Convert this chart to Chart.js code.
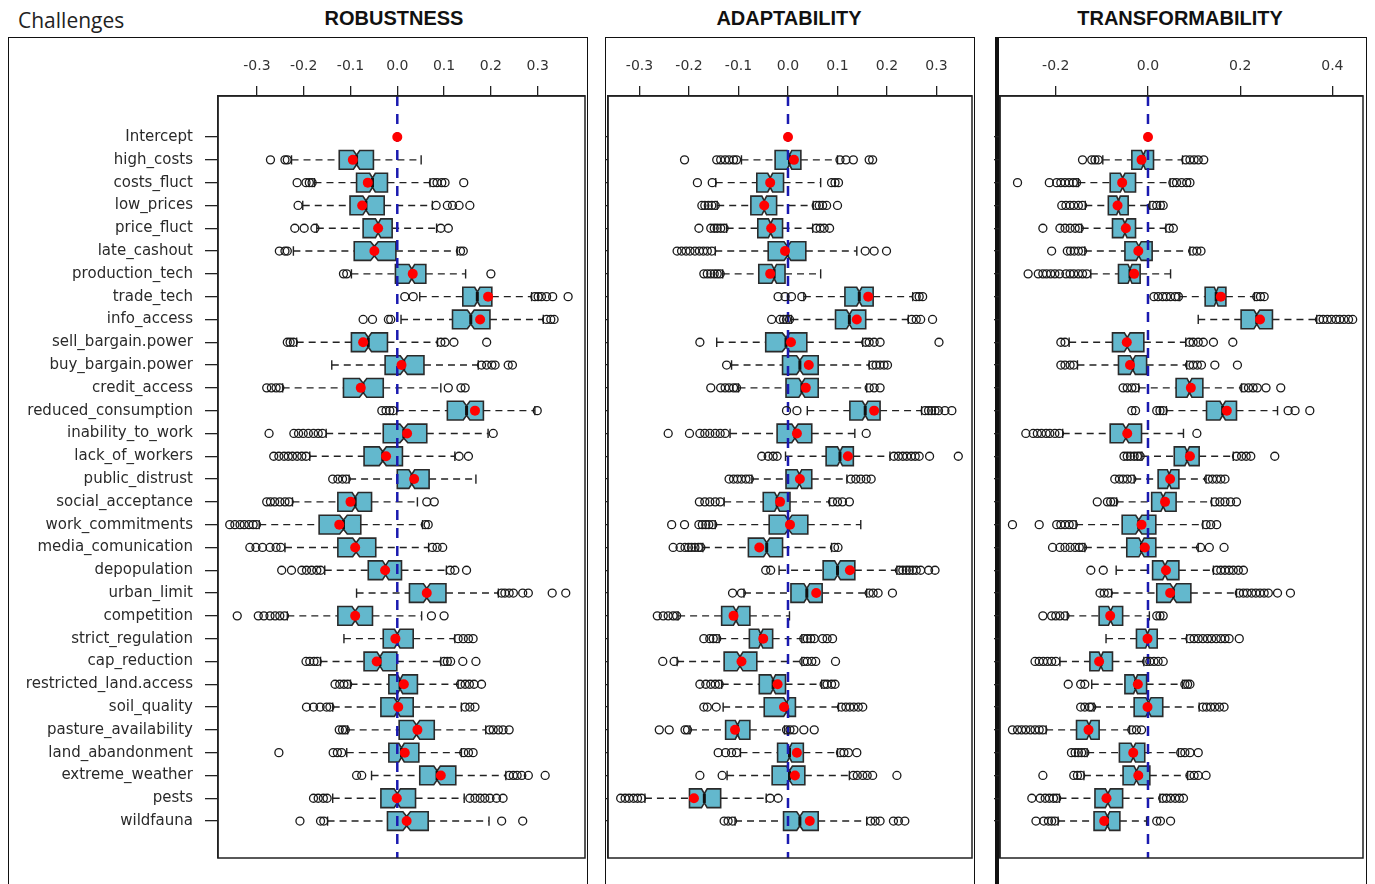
<!DOCTYPE html>
<html>
<head>
<meta charset="utf-8">
<script src="https://cdn.jsdelivr.net/npm/chart.js@4.4.1/dist/chart.umd.min.js"></script>
<style>
    body { margin: 0; background: #fff; width: 1375px; height: 884px; overflow: hidden; position: relative; }
    .frame { position: absolute; top: 37px; height: 900px; border: 1.5px solid #111; border-bottom: none; box-sizing: border-box; }
    .title { position: absolute; top: 7px; font: bold 20px 'Liberation Sans', Arial, sans-serif; color: #111; transform: translateX(-50%); white-space: nowrap; }
    canvas { position: absolute; }
</style>
</head>
<body>
<div style="position:absolute; left:18px; top:6px; font: 21px 'Open Sans', sans-serif; color:#222;">Challenges</div>
<div class="title" style="left:394px;">ROBUSTNESS</div>
<div class="title" style="left:789px;">ADAPTABILITY</div>
<div class="title" style="left:1180px;">TRANSFORMABILITY</div>

<div class="frame" style="left:8px; width:580px;"></div>
<div class="frame" style="left:605px; width:370px;"></div>
<div class="frame" style="left:995px; width:372px; border-left-width:4px;"></div>

<canvas id="robChart" width="576" height="822" style="left:10px; top:40px;"></canvas>
<canvas id="adaChart" width="373" height="822" style="left:603px; top:40px;"></canvas>
<canvas id="trfChart" width="375" height="822" style="left:992px; top:40px;"></canvas>

<script>
// Predictors, top to bottom
const challenges = ['Intercept', 'high_costs', 'costs_fluct', 'low_prices', 'price_fluct', 'late_cashout',
    'production_tech', 'trade_tech', 'info_access', 'sell_bargain.power', 'buy_bargain.power', 'credit_access',
    'reduced_consumption', 'inability_to_work', 'lack_of_workers', 'public_distrust', 'social_acceptance',
    'work_commitments', 'media_comunication', 'depopulation', 'urban_limit', 'competition', 'strict_regulation',
    'cap_reduction', 'restricted_land.access', 'soil_quality', 'pasture_availability', 'land_abandonment',
    'extreme_weather', 'pests', 'wildfauna'];

// bootstrap replicates per coefficient (used for the notch width)
const sampleSize = 300;

// ROBUSTNESS
const robTicks = [-0.3, -0.2, -0.1, 0.0, 0.1, 0.2, 0.3];
const robLo = [null, -0.226, -0.177, -0.202, -0.172, -0.222, -0.098, 0.048, 0.008, -0.215, -0.140, -0.245, -0.001, -0.152, -0.187, -0.103, -0.224, -0.295, -0.240, -0.155, -0.087, -0.235, -0.114, -0.164, -0.100, -0.138, -0.106, -0.108, -0.055, -0.138, -0.149];
const robQ1 = [null, -0.124, -0.087, -0.101, -0.073, -0.092, -0.004, 0.140, 0.118, -0.098, -0.026, -0.115, 0.107, -0.030, -0.071, 0.000, -0.127, -0.167, -0.127, -0.062, 0.026, -0.127, -0.030, -0.071, -0.018, -0.035, 0.004, -0.018, 0.048, -0.035, -0.021];
const robMed = [null, -0.087, -0.053, -0.067, -0.041, -0.049, 0.031, 0.171, 0.157, -0.062, 0.014, -0.073, 0.148, 0.014, -0.031, 0.031, -0.090, -0.115, -0.088, -0.025, 0.063, -0.090, 0.000, -0.037, 0.006, 0.000, 0.041, 0.009, 0.085, 0.000, 0.020];
const robQ3 = [null, -0.051, -0.021, -0.028, -0.011, -0.003, 0.061, 0.202, 0.198, -0.021, 0.057, -0.030, 0.184, 0.063, 0.011, 0.068, -0.055, -0.078, -0.046, 0.009, 0.104, -0.053, 0.034, -0.001, 0.043, 0.034, 0.079, 0.046, 0.125, 0.039, 0.066];
const robHi = [null, 0.051, 0.070, 0.075, 0.084, 0.128, 0.146, 0.287, 0.312, 0.086, 0.173, 0.093, 0.294, 0.194, 0.123, 0.168, 0.043, 0.054, 0.067, 0.105, 0.216, 0.052, 0.123, 0.093, 0.130, 0.137, 0.189, 0.137, 0.232, 0.143, 0.196];
const robMean = [0, -0.095, -0.063, -0.075, -0.041, -0.049, 0.033, 0.194, 0.177, -0.073, 0.009, -0.078, 0.166, 0.021, -0.024, 0.036, -0.100, -0.124, -0.090, -0.026, 0.063, -0.090, -0.004, -0.044, 0.014, 0.002, 0.043, 0.016, 0.093, -0.001, 0.020];
const robOut = [
    [],
    [-0.271, -0.240, -0.235],
    [-0.214, -0.195, -0.188, -0.182, 0.077, 0.085, 0.095, 0.102, 0.142],
    [-0.212, 0.083, 0.107, 0.118, 0.132, 0.155],
    [-0.219, -0.199, -0.176, 0.093, 0.109],
    [-0.252, -0.240, -0.235, 0.135, 0.141],
    [-0.115, -0.108, 0.200],
    [0.016, 0.034, 0.294, 0.301, 0.308, 0.319, 0.332, 0.365],
    [-0.073, -0.053, -0.019, -0.014, 0.319, 0.328, 0.335],
    [-0.235, -0.229, -0.222, 0.093, 0.102, 0.121, 0.191],
    [0.180, 0.191, 0.202, 0.209, 0.237, 0.246],
    [-0.279, -0.269, -0.259, -0.251, 0.109, 0.136, 0.145],
    [-0.033, -0.024, -0.016, -0.009, 0.299],
    [-0.274, -0.221, -0.211, -0.201, -0.190, -0.179, -0.169, -0.160, 0.205],
    [-0.264, -0.253, -0.242, -0.233, -0.224, -0.214, -0.204, -0.195, 0.132, 0.152],
    [-0.138, -0.127, -0.117, -0.109],
    [-0.279, -0.271, -0.262, -0.251, -0.240, -0.231, 0.063, 0.079],
    [-0.358, -0.347, -0.336, -0.327, -0.317, -0.308, -0.301, 0.060, 0.066],
    [-0.315, -0.302, -0.288, -0.272, -0.259, -0.249, 0.075, 0.085, 0.097],
    [-0.247, -0.226, -0.204, -0.194, -0.183, -0.172, -0.164, 0.113, 0.123, 0.148],
    [0.223, 0.230, 0.239, 0.248, 0.268, 0.280, 0.331, 0.360],
    [-0.342, -0.297, -0.285, -0.272, -0.261, -0.251, -0.241, 0.073, 0.100],
    [0.130, 0.141, 0.152, 0.162],
    [-0.195, -0.187, -0.178, -0.171, 0.100, 0.107, 0.114, 0.140, 0.168],
    [-0.133, -0.123, -0.114, -0.106, 0.135, 0.145, 0.154, 0.164, 0.180],
    [-0.194, -0.179, -0.165, -0.151, -0.144, 0.145, 0.155, 0.166],
    [-0.124, -0.117, -0.111, 0.197, 0.205, 0.216, 0.226, 0.239],
    [-0.253, -0.137, -0.128, -0.119, 0.142, 0.152, 0.162],
    [-0.087, -0.076, 0.239, 0.248, 0.256, 0.266, 0.280, 0.316],
    [-0.179, -0.169, -0.158, -0.150, 0.155, 0.166, 0.177, 0.187, 0.198, 0.212, 0.226],
    [-0.208, -0.164, -0.157, 0.223, 0.268]
];

// ADAPTABILITY
const adaTicks = [-0.3, -0.2, -0.1, 0.0, 0.1, 0.2, 0.3];
const adaLo = [null, -0.094, -0.146, -0.143, -0.124, -0.147, -0.132, 0.032, 0.007, -0.144, -0.114, -0.100, 0.039, -0.117, -0.005, -0.073, -0.129, -0.147, -0.172, -0.018, -0.089, -0.222, -0.139, -0.224, -0.134, -0.131, -0.198, -0.096, -0.123, -0.289, -0.107];
const adaQ1 = [null, -0.026, -0.063, -0.075, -0.061, -0.040, -0.059, 0.115, 0.096, -0.045, -0.011, -0.004, 0.125, -0.022, 0.077, -0.004, -0.050, -0.038, -0.080, 0.071, 0.006, -0.134, -0.078, -0.129, -0.058, -0.048, -0.126, -0.021, -0.032, -0.199, -0.009];
const adaMed = [null, 0.003, -0.036, -0.048, -0.035, -0.001, -0.028, 0.144, 0.124, -0.004, 0.024, 0.028, 0.156, 0.014, 0.105, 0.023, -0.022, 0.001, -0.043, 0.100, 0.038, -0.105, -0.055, -0.097, -0.030, -0.003, -0.102, 0.003, 0.003, -0.169, 0.024];
const adaQ3 = [null, 0.026, -0.009, -0.023, -0.011, 0.036, -0.006, 0.172, 0.157, 0.038, 0.061, 0.061, 0.186, 0.048, 0.132, 0.048, 0.004, 0.040, -0.011, 0.135, 0.069, -0.077, -0.031, -0.063, -0.005, 0.015, -0.077, 0.031, 0.034, -0.136, 0.061];
const adaHi = [null, 0.100, 0.066, 0.051, 0.050, 0.139, 0.066, 0.252, 0.243, 0.151, 0.164, 0.159, 0.270, 0.135, 0.206, 0.119, 0.084, 0.147, 0.088, 0.220, 0.159, 0.003, 0.028, 0.028, 0.068, 0.102, -0.007, 0.100, 0.124, -0.044, 0.159];
const adaMean = [0, 0.012, -0.036, -0.048, -0.034, -0.006, -0.036, 0.162, 0.139, 0.006, 0.042, 0.036, 0.174, 0.018, 0.121, 0.024, -0.016, 0.004, -0.058, 0.125, 0.057, -0.110, -0.050, -0.094, -0.021, -0.008, -0.107, 0.018, 0.014, -0.190, 0.044];
const adaOut = [
    [],
    [-0.209, -0.144, -0.136, -0.127, -0.119, -0.110, -0.104, 0.105, 0.117, 0.132, 0.164, 0.171],
    [-0.183, -0.153, 0.088, 0.095, 0.102],
    [-0.174, -0.168, -0.161, -0.154, -0.147, 0.057, 0.063, 0.070, 0.078, 0.100],
    [-0.180, -0.156, -0.149, -0.143, -0.136, -0.129, 0.057, 0.065, 0.073, 0.084],
    [-0.224, -0.215, -0.206, -0.198, -0.188, -0.179, -0.171, -0.163, -0.154, 0.156, 0.174, 0.199],
    [-0.170, -0.163, -0.156, -0.149, -0.143, -0.137],
    [-0.020, -0.006, 0.007, 0.028, 0.259, 0.265, 0.272],
    [-0.033, -0.016, -0.009, -0.003, 0.003, 0.250, 0.259, 0.268, 0.292],
    [-0.178, 0.157, 0.164, 0.174, 0.186, 0.305],
    [-0.124, 0.171, 0.178, 0.186, 0.194, 0.201],
    [-0.156, -0.136, -0.127, -0.119, -0.110, -0.104, 0.164, 0.174, 0.186],
    [-0.003, 0.018, 0.277, 0.284, 0.290, 0.297, 0.304, 0.317, 0.331],
    [-0.242, -0.199, -0.178, -0.168, -0.158, -0.147, -0.137, -0.127, 0.158],
    [-0.053, -0.040, -0.030, -0.022, 0.214, 0.223, 0.232, 0.240, 0.249, 0.257, 0.265, 0.286, 0.344],
    [-0.119, -0.110, -0.102, -0.094, -0.085, -0.078, 0.127, 0.137, 0.147, 0.158, 0.168],
    [-0.179, -0.168, -0.158, -0.147, -0.137, 0.090, 0.100, 0.110, 0.124],
    [-0.235, -0.209, -0.180, -0.173, -0.166, -0.160, -0.152],
    [-0.232, -0.218, -0.208, -0.201, -0.195, -0.188, -0.181, -0.176, 0.094, 0.101],
    [-0.045, -0.035, 0.225, 0.232, 0.239, 0.245, 0.252, 0.259, 0.268, 0.284, 0.297],
    [-0.112, -0.094, 0.164, 0.172, 0.182, 0.211],
    [-0.264, -0.252, -0.242, -0.232, -0.225],
    [-0.170, -0.158, -0.151, -0.144, 0.032, 0.039, 0.046, 0.053, 0.070, 0.079, 0.090],
    [-0.253, -0.230, 0.032, 0.039, 0.048, 0.056, 0.096],
    [-0.178, -0.166, -0.156, -0.147, -0.139, 0.073, 0.079, 0.088, 0.095],
    [-0.170, -0.163, -0.145, 0.108, 0.117, 0.125, 0.133, 0.142, 0.151],
    [-0.260, -0.240, -0.208, -0.203, -0.003, 0.004, 0.012, 0.032, 0.053],
    [-0.141, -0.126, -0.114, -0.104, 0.106, 0.113, 0.122, 0.139],
    [-0.178, -0.133, 0.132, 0.140, 0.151, 0.160, 0.171, 0.220],
    [-0.338, -0.329, -0.321, -0.312, -0.304, -0.296, -0.036, -0.020],
    [-0.129, -0.121, -0.112, 0.167, 0.176, 0.186, 0.213, 0.223, 0.236]
];

// TRANSFORMABILITY
const trfTicks = [-0.2, 0.0, 0.2, 0.4];
const trfLo = [null, -0.098, -0.151, -0.136, -0.144, -0.137, -0.124, 0.069, 0.109, -0.171, -0.153, -0.020, 0.040, -0.185, -0.013, -0.030, -0.068, -0.156, -0.137, -0.069, -0.079, -0.175, -0.091, -0.191, -0.122, -0.117, -0.221, -0.132, -0.139, -0.192, -0.195];
const trfQ1 = [null, -0.035, -0.082, -0.086, -0.077, -0.050, -0.064, 0.124, 0.202, -0.077, -0.064, 0.061, 0.127, -0.082, 0.057, 0.022, 0.008, -0.056, -0.046, 0.010, 0.019, -0.106, -0.025, -0.126, -0.050, -0.030, -0.155, -0.062, -0.054, -0.115, -0.117];
const trfMed = [null, -0.010, -0.055, -0.064, -0.050, -0.020, -0.039, 0.148, 0.236, -0.045, -0.033, 0.090, 0.162, -0.048, 0.085, 0.046, 0.033, -0.020, -0.014, 0.037, 0.055, -0.081, -0.001, -0.102, -0.027, 0.001, -0.128, -0.032, -0.025, -0.087, -0.088];
const trfQ3 = [null, 0.012, -0.027, -0.043, -0.027, 0.009, -0.017, 0.169, 0.270, -0.009, -0.003, 0.119, 0.192, -0.014, 0.111, 0.067, 0.061, 0.017, 0.017, 0.067, 0.093, -0.055, 0.020, -0.077, -0.003, 0.032, -0.106, -0.007, 0.004, -0.055, -0.061];
const trfHi = [null, 0.075, 0.048, 0.004, 0.039, 0.091, 0.049, 0.231, 0.366, 0.082, 0.084, 0.203, 0.281, 0.077, 0.185, 0.126, 0.138, 0.119, 0.109, 0.142, 0.192, 0.003, 0.084, -0.009, 0.075, 0.111, -0.040, 0.066, 0.086, 0.026, -0.003];
const trfMean = [0, -0.014, -0.056, -0.066, -0.048, -0.021, -0.030, 0.158, 0.243, -0.046, -0.039, 0.093, 0.171, -0.045, 0.091, 0.048, 0.037, -0.014, -0.007, 0.039, 0.048, -0.082, -0.001, -0.106, -0.022, -0.001, -0.129, -0.032, -0.021, -0.090, -0.095];
const trfOut = [
    [],
    [-0.142, -0.122, -0.115, -0.108, 0.082, 0.091, 0.100, 0.109, 0.121],
    [-0.283, -0.214, -0.198, -0.189, -0.180, -0.171, -0.162, -0.155, 0.054, 0.062, 0.073, 0.084, 0.091],
    [-0.187, -0.178, -0.169, -0.161, -0.151, -0.142, 0.010, 0.019, 0.027, 0.033],
    [-0.228, -0.191, -0.180, -0.169, -0.158, -0.149, 0.046, 0.055],
    [-0.209, -0.175, -0.168, -0.160, -0.151, -0.142, 0.097, 0.106, 0.115],
    [-0.260, -0.238, -0.228, -0.220, -0.211, -0.202, -0.192, -0.178, -0.169, -0.161, -0.151, -0.142, -0.133],
    [0.013, 0.022, 0.032, 0.040, 0.049, 0.059, 0.066, 0.236, 0.244, 0.252],
    [0.372, 0.380, 0.389, 0.398, 0.408, 0.416, 0.425, 0.435, 0.444],
    [-0.189, -0.180, 0.090, 0.098, 0.109, 0.120, 0.142, 0.184],
    [-0.189, -0.180, -0.169, -0.161, 0.090, 0.098, 0.107, 0.116, 0.145, 0.194],
    [-0.054, -0.045, -0.035, -0.027, 0.208, 0.218, 0.228, 0.237, 0.256, 0.288],
    [-0.035, -0.027, 0.019, 0.026, 0.033, 0.304, 0.319, 0.351],
    [-0.265, -0.249, -0.240, -0.231, -0.221, -0.213, -0.202, -0.192, 0.106],
    [-0.052, -0.045, -0.038, -0.030, -0.023, -0.017, 0.192, 0.203, 0.213, 0.223, 0.275],
    [-0.072, -0.062, -0.054, -0.045, -0.035, 0.131, 0.140, 0.149, 0.158, 0.167],
    [-0.110, -0.088, -0.081, -0.074, 0.145, 0.156, 0.167, 0.179, 0.192],
    [-0.294, -0.236, -0.198, -0.189, -0.180, -0.171, -0.162, 0.126, 0.136, 0.149],
    [-0.207, -0.191, -0.180, -0.169, -0.158, -0.149, -0.142, 0.114, 0.133, 0.165],
    [-0.124, -0.097, 0.149, 0.158, 0.167, 0.176, 0.185, 0.196, 0.207],
    [-0.104, -0.095, -0.086, 0.198, 0.207, 0.215, 0.225, 0.234, 0.243, 0.252, 0.261, 0.281, 0.309],
    [-0.228, -0.209, -0.200, -0.191, -0.180, 0.019, 0.026, 0.033],
    [0.091, 0.100, 0.109, 0.119, 0.129, 0.138, 0.148, 0.158, 0.167, 0.176, 0.198],
    [-0.245, -0.236, -0.227, -0.218, -0.209, -0.200, -0.003, 0.004, 0.013, 0.022, 0.033],
    [-0.173, -0.146, -0.137, 0.080, 0.086, 0.091],
    [-0.146, -0.137, -0.127, -0.122, 0.119, 0.127, 0.136, 0.145, 0.155, 0.165],
    [-0.294, -0.283, -0.274, -0.265, -0.255, -0.245, -0.236, -0.228, -0.035, -0.025, -0.014],
    [-0.166, -0.158, -0.151, -0.144, -0.137, 0.071, 0.080, 0.091, 0.109],
    [-0.228, -0.161, -0.153, -0.146, 0.091, 0.100, 0.109, 0.126],
    [-0.252, -0.234, -0.223, -0.214, -0.205, -0.198, 0.032, 0.040, 0.049, 0.059, 0.068, 0.077],
    [-0.243, -0.226, -0.216, -0.209, -0.202, 0.019, 0.027, 0.049]
];

const boxFill = '#63b8cd';
const boxEdge = '#2a2a2a';
const zeroBlue = '#1a1ab0';

// Draws notched boxes, dashed whiskers and the zero reference line
function boxPlugin(lo, q1, med, q3, hi) {
    return {
        id: 'notchedBoxes',
        beforeDatasetsDraw(chart) {
            const { ctx, chartArea, scales: { x, y } } = chart;
            const unit = Math.abs(y.getPixelForValue(1) - y.getPixelForValue(0));
            const half = unit * 0.41;
            ctx.save();
            for (let i = 0; i < challenges.length; i++) {
                if (q1[i] == null) continue;
                const yc = y.getPixelForValue(i);
                const xLo = x.getPixelForValue(lo[i]);
                const xQ1 = x.getPixelForValue(q1[i]);
                const xMed = x.getPixelForValue(med[i]);
                const xQ3 = x.getPixelForValue(q3[i]);
                const xHi = x.getPixelForValue(hi[i]);

                // whiskers
                ctx.strokeStyle = '#222';
                ctx.lineWidth = 1.4;
                ctx.setLineDash([7, 5]);
                ctx.beginPath();
                ctx.moveTo(xLo, yc); ctx.lineTo(xQ1, yc);
                ctx.moveTo(xQ3, yc); ctx.lineTo(xHi, yc);
                ctx.stroke();
                ctx.setLineDash([]);
                ctx.beginPath();
                ctx.moveTo(xLo, yc - half / 2); ctx.lineTo(xLo, yc + half / 2);
                ctx.moveTo(xHi, yc - half / 2); ctx.lineTo(xHi, yc + half / 2);
                ctx.stroke();

                // notched box
                const notch = 1.58 * (q3[i] - q1[i]) / Math.sqrt(sampleSize);
                const xn1 = x.getPixelForValue(Math.max(q1[i], med[i] - notch));
                const xn2 = x.getPixelForValue(Math.min(q3[i], med[i] + notch));
                ctx.beginPath();
                ctx.moveTo(xQ1, yc - half);
                ctx.lineTo(xn1, yc - half);
                ctx.lineTo(xMed, yc - half / 2);
                ctx.lineTo(xn2, yc - half);
                ctx.lineTo(xQ3, yc - half);
                ctx.lineTo(xQ3, yc + half);
                ctx.lineTo(xn2, yc + half);
                ctx.lineTo(xMed, yc + half / 2);
                ctx.lineTo(xn1, yc + half);
                ctx.lineTo(xQ1, yc + half);
                ctx.closePath();
                ctx.fillStyle = boxFill;
                ctx.fill();
                ctx.strokeStyle = boxEdge;
                ctx.lineWidth = 1.6;
                ctx.stroke();

                // median
                ctx.strokeStyle = '#111';
                ctx.lineWidth = 3;
                ctx.beginPath();
                ctx.moveTo(xMed, yc - half / 2);
                ctx.lineTo(xMed, yc + half / 2);
                ctx.stroke();
            }

            // zero line
            const x0 = x.getPixelForValue(0);
            ctx.strokeStyle = zeroBlue;
            ctx.lineWidth = 2.5;
            ctx.setLineDash([10, 8]);
            ctx.beginPath();
            ctx.moveTo(x0, chartArea.top);
            ctx.lineTo(x0, chartArea.bottom);
            ctx.stroke();
            ctx.restore();
        },
        afterDraw(chart) {
            const { ctx, chartArea } = chart;
            ctx.save();
            ctx.strokeStyle = '#222';
            ctx.lineWidth = 1.5;
            ctx.strokeRect(chartArea.left, chartArea.top, chartArea.right - chartArea.left, chartArea.bottom - chartArea.top);
            ctx.restore();
        }
    };
}

function makePanel(canvasId, p) {
    const meanPoints = p.mean.map((v, i) => ({ x: v, y: i }));
    const outPoints = p.out.flatMap((arr, i) => arr.map(v => ({ x: v, y: i })));

    return new Chart(document.getElementById(canvasId), {
        type: 'scatter',
        data: {
            datasets: [{
                label: 'mean',
                data: meanPoints,
                pointRadius: 5,
                pointBackgroundColor: '#ff0000',
                pointBorderWidth: 0
            }, {
                label: 'outliers',
                data: outPoints,
                pointRadius: 4,
                pointBackgroundColor: 'rgba(0,0,0,0)',
                pointBorderColor: '#1a1a1a',
                pointBorderWidth: 1.3
            }]
        },
        options: {
            responsive: false,
            animation: false,
            devicePixelRatio: 1,
            events: [],
            layout: { autoPadding: false, padding: { left: 0, top: 0, right: p.padRight, bottom: 4 } },
            plugins: { legend: { display: false }, tooltip: { enabled: false } },
            scales: {
                x: {
                    type: 'linear',
                    position: 'top',
                    min: p.min,
                    max: p.max,
                    afterBuildTicks: s => { s.ticks = p.ticks.map(v => ({ value: v })); },
                    afterFit: s => {
                        s.height = 56;
                        s.paddingLeft = 0;
                        s.paddingRight = 0;
                    },
                    ticks: {
                        callback: v => v.toFixed(1),
                        font: { family: 'DejaVu Sans', size: 14 },
                        color: '#333',
                        padding: 11,
                        maxRotation: 0,
                        autoSkip: false
                    },
                    grid: { drawOnChartArea: false, tickLength: 10, color: '#222', lineWidth: 1.3 },
                    border: { color: '#222', width: 1.5 }
                },
                y: {
                    type: 'linear',
                    reverse: true,
                    min: -1.8,
                    max: 31.62,
                    afterBuildTicks: s => { s.ticks = challenges.map((c, i) => ({ value: i })); },
                    afterFit: s => {
                        s.width = p.yWidth;
                        s.paddingTop = 0;
                        s.paddingBottom = 0;
                    },
                    ticks: {
                        display: p.labels,
                        callback: v => challenges[v],
                        font: { family: 'DejaVu Sans', size: 15 },
                        color: '#2a2a2a',
                        padding: 12,
                        autoSkip: false
                    },
                    grid: { drawOnChartArea: false, tickLength: p.tickLength, color: '#222', lineWidth: 1.3 },
                    border: { color: '#222', width: 1.5 }
                }
            }
        },
        plugins: [boxPlugin(p.lo, p.q1, p.med, p.q3, p.hi)]
    });
}

makePanel('robChart', {
    lo: robLo, q1: robQ1, med: robMed, q3: robQ3, hi: robHi, mean: robMean, out: robOut,
    ticks: robTicks, min: -0.3831, max: 0.4011, yWidth: 208, padRight: 1, labels: true, tickLength: 13
});
makePanel('adaChart', {
    lo: adaLo, q1: adaQ1, med: adaMed, q3: adaQ3, hi: adaHi, mean: adaMean, out: adaOut,
    ticks: adaTicks, min: -0.3636, max: 0.3717, yWidth: 5, padRight: 4, labels: false, tickLength: 3
});
makePanel('trfChart', {
    lo: trfLo, q1: trfQ1, med: trfMed, q3: trfQ3, hi: trfHi, mean: trfMean, out: trfOut,
    ticks: trfTicks, min: -0.321, max: 0.4664, yWidth: 8, padRight: 4, labels: false, tickLength: 6
});
</script>
</body>
</html>
